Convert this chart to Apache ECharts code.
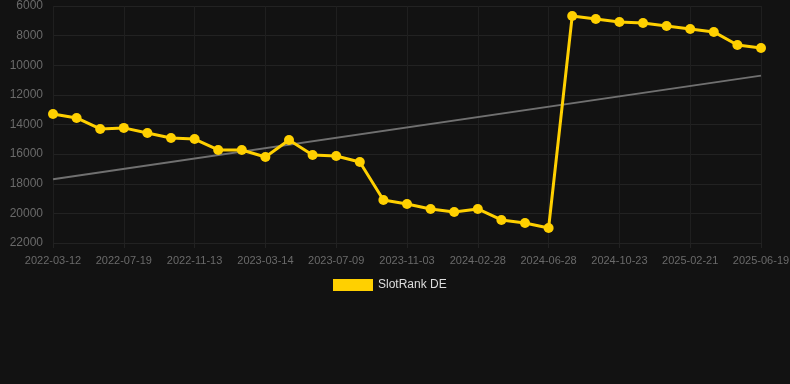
<!DOCTYPE html>
<html><head><meta charset="utf-8">
<script src="https://cdn.jsdelivr.net/npm/echarts@6/dist/echarts.min.js"></script>
<style>html,body{margin:0;padding:0;background:#121212;}#c{width:790px;height:384px;}</style>
</head><body><div id="c"></div>
<script>
const categories = ["2022-03-12","2022-04-24","2022-06-06","2022-07-19","2022-08-27","2022-10-05","2022-11-13","2022-12-23","2023-02-01","2023-03-14","2023-04-22","2023-05-31","2023-07-09","2023-08-17","2023-09-25","2023-11-03","2023-12-12","2024-01-20","2024-02-28","2024-04-08","2024-05-18","2024-06-28","2024-08-06","2024-09-14","2024-10-23","2024-12-02","2025-01-11","2025-02-21","2025-04-01","2025-05-10","2025-06-19"];
const rankValues = [13290,13560,14300,14230,14570,14910,14980,15720,15720,16190,15050,16060,16125,16530,19100,19370,19700,19910,19700,20445,20650,20985,6675,6880,7080,7150,7350,7550,7750,8630,8835];
const trendStart = 17700;
const trendEnd = 10700;
const seriesName = "SlotRank DE";

const trendValues = categories.map((c, i) => i === 0 ? trendStart : (i === categories.length - 1 ? trendEnd : null));

const chart = echarts.init(document.getElementById('c'));
chart.setOption({
  backgroundColor: '#121212',
  animation: false,
  grid: { left: 53, right: 29, top: 6, bottom: 141, outerBoundsMode: 'none', containLabel: false },
  legend: {
    data: [seriesName],
    top: 274,
    left: 328,
    itemWidth: 40,
    itemHeight: 12,
    icon: 'rect',
    textStyle: { color: '#dddddd', fontSize: 12, fontFamily: 'Arial, Liberation Sans, sans-serif' }
  },
  xAxis: {
    type: 'category',
    data: categories,
    boundaryGap: false,
    axisLine: { show: false },
    axisTick: { show: true, interval: 2, lineStyle: { color: '#222' } },
    axisLabel: { interval: 2, color: '#6a6a6a', fontSize: 11, margin: 12, fontFamily: 'Arial, Liberation Sans, sans-serif' },
    splitLine: { show: true, interval: 2, lineStyle: { color: '#1f1f1f' } }
  },
  yAxis: {
    type: 'value',
    inverse: true,
    min: 6000,
    max: 22000,
    interval: 2000,
    axisLine: { show: false },
    axisTick: { show: false },
    axisLabel: { color: '#6a6a6a', fontSize: 12, margin: 10, formatter: v => String(v), fontFamily: 'Arial, Liberation Sans, sans-serif' },
    splitLine: { lineStyle: { color: '#222222' } }
  },
  series: [
    {
      name: 'trend',
      type: 'line',
      data: trendValues,
      connectNulls: true,
      symbol: 'none',
      silent: true,
      lineStyle: { color: '#707070', width: 2 },
      z: 1
    },
    {
      name: seriesName,
      type: 'line',
      data: rankValues,
      symbol: 'circle',
      symbolSize: 10,
      itemStyle: { color: '#FFD000' },
      lineStyle: { color: '#FFD000', width: 3 },
      z: 3
    }
  ]
});
</script></body></html>
